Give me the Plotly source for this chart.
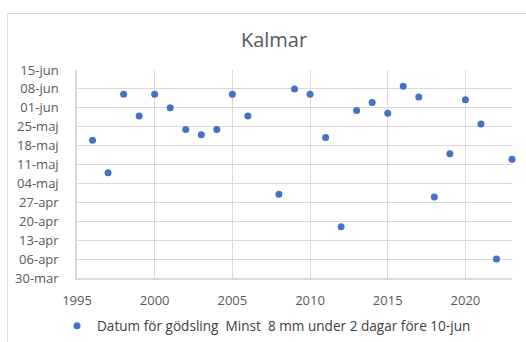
import plotly.graph_objects as go

years = [1996, 1997, 1998, 1999, 2000, 2001, 2002, 2003, 2004, 2005, 2006,
         2008, 2009, 2010, 2011, 2012, 2013, 2014, 2015, 2016, 2017, 2018,
         2019, 2020, 2021, 2022, 2023]
dates = ["2021-05-20", "2021-05-08", "2021-06-06", "2021-05-29", "2021-06-06",
         "2021-06-01", "2021-05-24", "2021-05-22", "2021-05-24", "2021-06-06",
         "2021-05-29", "2021-04-30", "2021-06-08", "2021-06-06", "2021-05-21",
         "2021-04-18", "2021-05-31", "2021-06-03", "2021-05-30", "2021-06-09",
         "2021-06-05", "2021-04-29", "2021-05-15", "2021-06-04", "2021-05-26",
         "2021-04-06", "2021-05-13"]
ytick_vals = ["2021-03-30", "2021-04-06", "2021-04-13", "2021-04-20", "2021-04-27",
              "2021-05-04", "2021-05-11", "2021-05-18", "2021-05-25", "2021-06-01",
              "2021-06-08", "2021-06-15"]
ytick_text = ["30-mar", "06-apr", "13-apr", "20-apr", "27-apr", "04-maj",
              "11-maj", "18-maj", "25-maj", "01-jun", "08-jun", "15-jun"]
xtick_vals = [1995, 2000, 2005, 2010, 2015, 2020]
series_name = "Datum för gödsling\u00a0\u00a0Minst\u00a0\u00a08 mm under 2 dagar före 10-jun"
title_text = "Kalmar"

FONT = "Open Sans, sans-serif"
GRID = "#d9d9d9"
TXT = "#595959"

fig = go.Figure()
fig.add_trace(go.Scatter(
    x=years, y=dates, mode="markers", name=series_name,
    marker=dict(color="#4472C4", size=7),
    cliponaxis=False,
))

L, R, T, B = 77, 14, 70, 64
W, H = 526, 342
pw, ph = W - L - R, H - T - B

fig.update_layout(
    width=W, height=H,
    margin=dict(l=L, r=R, t=T, b=B, pad=0, autoexpand=False),
    paper_bgcolor="white", plot_bgcolor="white",
    font=dict(family=FONT, size=13, color=TXT),
    title=dict(text=title_text, x=274 / W, xref="container", xanchor="center",
               y=1 - 40 / H, yref="container", yanchor="middle",
               font=dict(size=20, color=TXT, family=FONT)),
    showlegend=True,
    legend=dict(orientation="h", x=57 / W, xref="container", xanchor="left",
                y=1 - 326 / H, yref="container", yanchor="middle",
                font=dict(size=13.6, color="#404040"), itemwidth=30,
                bgcolor="rgba(0,0,0,0)"),
    xaxis=dict(range=[1995, 2023], tickvals=xtick_vals, showgrid=True,
               gridcolor=GRID, gridwidth=1, zeroline=False, automargin=False,
               showline=True, linecolor=GRID, linewidth=1.5,
               ticks="", ticklabelstandoff=10,
               tickfont=dict(size=13, color=TXT)),
    yaxis=dict(type="date", range=["2021-03-30", "2021-06-15"],
               tickvals=ytick_vals, ticktext=ytick_text, automargin=False,
               showgrid=True, gridcolor=GRID, gridwidth=1, zeroline=False,
               showline=True, linecolor=GRID, linewidth=1.5,
               ticks="", ticklabelstandoff=14,
               tickfont=dict(size=13, color=TXT)),
    shapes=[dict(type="rect", xref="paper", yref="paper",
                 x0=(7.5 - L) / pw, x1=(540 - L) / pw,
                 y0=(H - B - 360) / ph, y1=(H - B - 13.5) / ph,
                 line=dict(color=GRID, width=1), fillcolor="rgba(0,0,0,0)",
                 layer="below")],
)

fig.write_html("out.html")
